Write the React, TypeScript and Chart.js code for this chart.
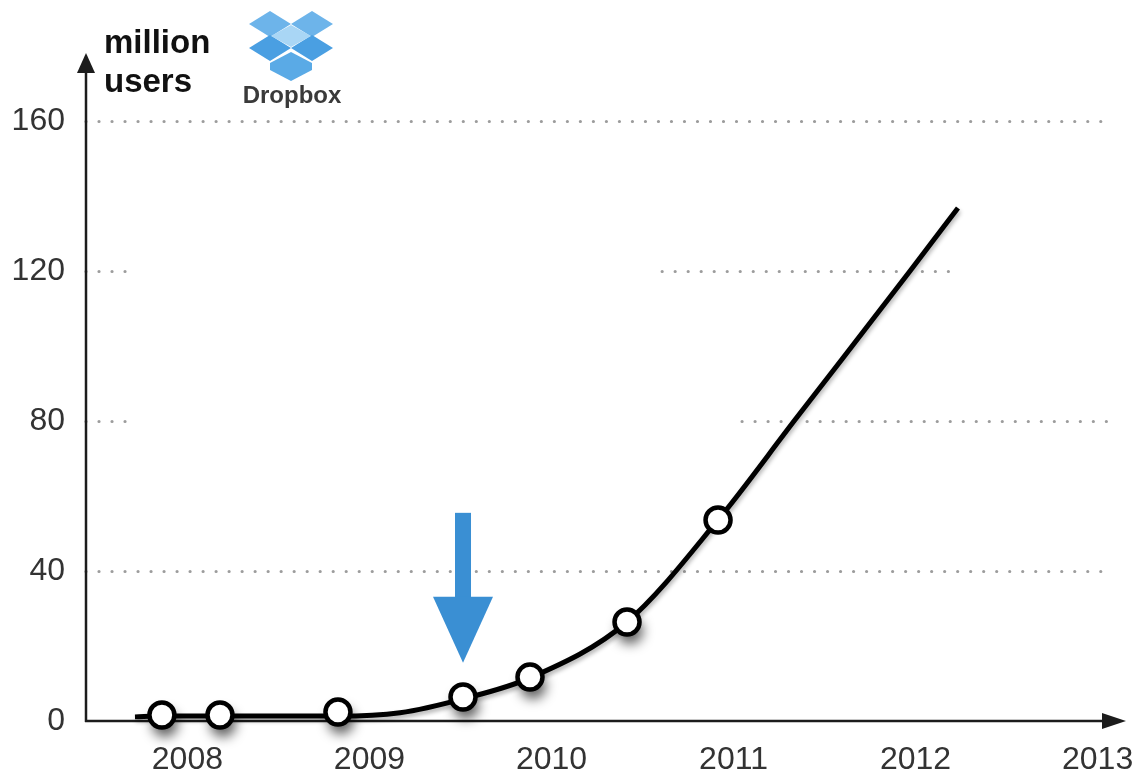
import React, { useEffect, useRef } from "react";
import { Chart, registerables } from "chart.js";

Chart.register(...registerables);

// ---- data ----
const yearTicks = [2008, 2009, 2010, 2011, 2012, 2013];
const userTicks = [0, 40, 80, 120, 160];

const markerYears = [2007.86, 2008.179, 2008.827, 2009.514, 2009.882, 2010.415, 2010.915];
const markerUsers = [1.6, 1.6, 2.4, 6.4, 11.7, 26.4, 53.6];
// markers that cast a drop shadow in the reference
const markerShadow = [true, true, true, true, true, true, false];

const curveYears = [2007.712, 2007.86, 2008.179, 2008.827, 2009.168, 2009.514, 2009.882, 2010.415, 2010.915, 2011.338, 2011.975, 2012.233];
const curveUsers = [1.1, 1.3, 1.3, 1.3, 2.2, 5.9, 11.5, 26.4, 53.6, 80.3, 120.3, 136.8];

// dotted guide lines: [value, fromYear, toYear]
const gridSegments: number[][] = [
  [160, 2007.443, 2013.087],
  [120, 2007.443, 2007.725],
  [120, 2010.608, 2012.219],
  [80, 2007.443, 2007.725],
  [80, 2011.047, 2013.082],
  [40, 2007.443, 2013.087],
];

// blue arrow pointing at a marker
const arrowYear = 2009.514;
const arrowTipUsers = 15.5;
const arrowHeadUsers = 33.1;
const arrowTailUsers = 55.5;

const xMin = 2007.443;
const xMax = 2013.156;
const yMin = 0;
const yMax = 178.1;

const FONT = '"Liberation Sans", Arial, Helvetica, sans-serif';

const decor = {
  id: "decor",
  beforeDatasetsDraw(chart: any) {
    const { ctx, chartArea: ca, scales } = chart;
    const x = scales.x;
    const y = scales.y;
    ctx.save();
    // dotted grid
    ctx.strokeStyle = "#9c9c9c";
    ctx.lineWidth = 3.2;
    ctx.lineCap = "round";
    ctx.setLineDash([0.01, 13]);
    for (const [v, a, b] of gridSegments) {
      const py = Math.round(y.getPixelForValue(v)) + 0.5;
      ctx.beginPath();
      ctx.moveTo(x.getPixelForValue(a), py);
      ctx.lineTo(x.getPixelForValue(b), py);
      ctx.stroke();
    }
    ctx.setLineDash([]);
    // axes with arrowheads
    ctx.strokeStyle = "#1c1c1c";
    ctx.fillStyle = "#1c1c1c";
    ctx.lineWidth = 2.5;
    ctx.lineCap = "butt";
    const ox = ca.left;
    const oy = ca.bottom;
    ctx.beginPath();
    ctx.moveTo(ox, oy + 1);
    ctx.lineTo(ox, ca.top + 16);
    ctx.stroke();
    ctx.beginPath();
    ctx.moveTo(ox, ca.top);
    ctx.lineTo(ox - 9, ca.top + 20);
    ctx.lineTo(ox + 9, ca.top + 20);
    ctx.closePath();
    ctx.fill();
    ctx.beginPath();
    ctx.moveTo(ox - 1, oy);
    ctx.lineTo(ca.right - 18, oy);
    ctx.stroke();
    ctx.beginPath();
    ctx.moveTo(ca.right, oy);
    ctx.lineTo(ca.right - 24, oy - 8);
    ctx.lineTo(ca.right - 24, oy + 8);
    ctx.closePath();
    ctx.fill();
    ctx.restore();
  },
  beforeDatasetDraw(chart: any, args: any) {
    const ctx = chart.ctx;
    if (args.index === 0) {
      // soft drop shadows under the markers
      const meta = chart.getDatasetMeta(0);
      ctx.save();
      ctx.filter = "blur(6px)";
      ctx.fillStyle = "rgba(0,0,0,0.62)";
      meta.data.forEach((el: any, i: number) => {
        if (!markerShadow[i]) return;
        ctx.beginPath();
        ctx.arc(el.x + 3, el.y + 9, 13, 0, Math.PI * 2);
        ctx.fill();
      });
      ctx.restore();
    } else {
      ctx.save();
      ctx.shadowColor = "rgba(0,0,0,0.3)";
      ctx.shadowBlur = 4;
      ctx.shadowOffsetX = 1;
      ctx.shadowOffsetY = 3;
    }
  },
  afterDatasetDraw(chart: any, args: any) {
    if (args.index !== 0) chart.ctx.restore();
  },
  afterDraw(chart: any) {
    const { ctx, scales } = chart;
    const x = scales.x;
    const y = scales.y;
    ctx.save();
    // blue arrow
    const ax = x.getPixelForValue(arrowYear);
    const tip = y.getPixelForValue(arrowTipUsers);
    const head = y.getPixelForValue(arrowHeadUsers);
    const tail = y.getPixelForValue(arrowTailUsers);
    ctx.fillStyle = "#3a8fd3";
    ctx.fillRect(ax - 8, tail, 16, head - tail + 1);
    ctx.beginPath();
    ctx.moveTo(ax - 30, head);
    ctx.lineTo(ax + 30, head);
    ctx.lineTo(ax, tip);
    ctx.closePath();
    ctx.fill();

    // axis title
    ctx.fillStyle = "#111";
    ctx.font = `bold 33px ${FONT}`;
    ctx.textAlign = "left";
    ctx.textBaseline = "alphabetic";
    ctx.fillText("million", 104, 53);
    ctx.fillText("users", 104, 92);

    // Dropbox logo
    const diamond = (cx: number, cy: number, w: number, h: number, c: string) => {
      ctx.fillStyle = c;
      ctx.beginPath();
      ctx.moveTo(cx - w, cy);
      ctx.lineTo(cx, cy - h);
      ctx.lineTo(cx + w, cy);
      ctx.lineTo(cx, cy + h);
      ctx.closePath();
      ctx.fill();
    };
    diamond(270, 24, 21, 13, "#6db4ea");
    diamond(312, 24, 21, 13, "#6db4ea");
    diamond(270, 48, 21, 13, "#4a9fe2");
    diamond(312, 48, 21, 13, "#4a9fe2");
    diamond(291, 36, 20, 11, "#a9d6f5");
    ctx.fillStyle = "#5aaae6";
    ctx.beginPath();
    ctx.moveTo(270, 63);
    ctx.lineTo(291, 52);
    ctx.lineTo(312, 63);
    ctx.lineTo(312, 70);
    ctx.lineTo(291, 81);
    ctx.lineTo(270, 70);
    ctx.closePath();
    ctx.fill();
    ctx.fillStyle = "#3a3a3a";
    ctx.font = `bold 24px ${FONT}`;
    ctx.textAlign = "center";
    ctx.fillText("Dropbox", 292, 103);
    ctx.restore();
  },
};

export default function App() {
  const ref = useRef<HTMLCanvasElement | null>(null);

  useEffect(() => {
    document.body.style.margin = "0";
    const canvas = ref.current;
    if (!canvas) return;
    const chart = new Chart(canvas, {
      type: "scatter",
      data: {
        datasets: [
          {
            label: "users",
            data: markerYears.map((yr, i) => ({ x: yr, y: markerUsers[i] })),
            showLine: false,
            pointRadius: 12.5,
            pointBorderWidth: 4.5,
            pointBackgroundColor: "#ffffff",
            pointBorderColor: "#000000",
            clip: false,
          } as any,
          {
            label: "trend",
            data: curveYears.map((yr, i) => ({ x: yr, y: curveUsers[i] })),
            showLine: true,
            borderColor: "#000000",
            borderWidth: 5,
            pointRadius: 0,
            cubicInterpolationMode: "monotone",
            clip: false,
          } as any,
        ],
      },
      options: {
        animation: false,
        responsive: false,
        events: [],
        layout: { padding: { left: 0, top: 53, right: 17, bottom: 0 } },
        plugins: { legend: { display: false }, tooltip: { enabled: false } },
        scales: {
          x: {
            type: "linear",
            min: xMin,
            max: xMax,
            grid: { display: false, drawTicks: false },
            border: { display: false },
            afterBuildTicks: (s: any) => {
              s.ticks = yearTicks.map((v) => ({ value: v }));
            },
            afterFit: (s: any) => {
              s.height = 58;
              s.paddingLeft = 0;
              s.paddingRight = 0;
            },
            ticks: {
              padding: 20,
              color: "#333",
              font: { family: FONT, size: 32 },
              maxRotation: 0,
              autoSkip: false,
              callback: (v: any) => String(v),
            },
          },
          y: {
            type: "linear",
            min: yMin,
            max: yMax,
            grid: { display: false, drawTicks: false },
            border: { display: false },
            afterBuildTicks: (s: any) => {
              s.ticks = userTicks.map((v) => ({ value: v }));
            },
            afterFit: (s: any) => {
              s.width = 86;
              s.paddingTop = 0;
              s.paddingBottom = 0;
            },
            ticks: {
              padding: 21,
              color: "#333",
              font: { family: FONT, size: 32 },
              callback: (v: any) => String(v),
            },
          },
        },
      },
      plugins: [decor],
    });
    return () => chart.destroy();
  }, []);

  return (
    <div style={{ width: 1143, height: 779, background: "#fff" }}>
      <canvas ref={ref} width={1143} height={779} style={{ display: "block" }} />
    </div>
  );
}
